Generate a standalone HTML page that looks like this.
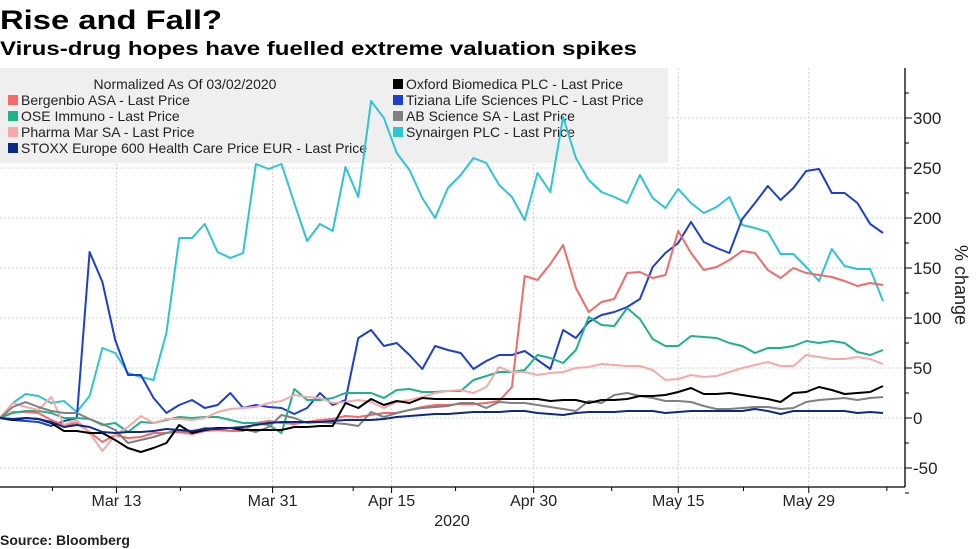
<!DOCTYPE html>
<html><head><meta charset="utf-8"><style>
body{margin:0;background:#fff;}
svg{display:block;font-family:"Liberation Sans",sans-serif;}
</style></head><body>
<svg id="c" width="977" height="549" viewBox="0 0 977 549">
<text x="0" y="29" font-size="27" font-weight="bold" textLength="222" lengthAdjust="spacingAndGlyphs">Rise and Fall?</text>
<text x="0" y="55" font-size="19" font-weight="bold" textLength="637" lengthAdjust="spacingAndGlyphs">Virus-drug hopes have fuelled extreme valuation spikes</text>
<g id="grid"></g>
<g>
<rect x="0" y="68" width="668" height="95" fill="#efefef"/>
<text x="185" y="89" font-size="14" text-anchor="middle" fill="#222">Normalized As Of 03/02/2020</text>
<g id="leg"></g>
</g>
<g id="series"></g>
<g id="axes"></g>
<text x="452" y="526" font-size="16" text-anchor="middle" fill="#222">2020</text>
<text transform="translate(955,285) rotate(90)" font-size="18" text-anchor="middle" fill="#222">% change</text>
<text x="0" y="545" font-size="14" font-weight="bold" fill="#222">Source: Bloomberg</text>
</svg>
<script>
const seriesNames=["Bergenbio ASA - Last Price","OSE Immuno - Last Price","Pharma Mar SA - Last Price","STOXX Europe 600 Health Care Price EUR - Last Price","Oxford Biomedica PLC - Last Price","Tiziana Life Sciences PLC - Last Price","AB Science SA - Last Price","Synairgen PLC - Last Price"];
const bergenbio=[0,6,6,5,-2,-7,-5,-14,-24,-17,-20,-19,-15,-15,-14,-16,-13,-12,-13,-13,-5,-3,-5,-6,-4,-2,-1,2,1,3,5,5,8,11,13,13,14,14,15,17,31,142,138,154,173,130,106,116,119,145,146,140,143,187,165,148,151,158,167,165,148,140,150,145,143,141,137,132,135,133];
const ose=[0,5,7,7,5,0,0,-1,-7,-5,-14,-4,-5,-2,1,0,1,1,-2,-5,-5,-7,-15,29,18,18,20,25,25,25,20,28,29,26,26,27,27,38,42,46,46,48,63,60,55,68,101,93,92,110,99,79,72,72,82,81,80,75,72,65,70,70,72,77,75,77,75,66,63,68];
const pharmaMar=[0,15,11,8,21,-7,-2,-15,-33,-17,-9,2,-5,-1,-1,-2,0,6,9,10,11,15,17,23,21,20,15,16,18,16,10,16,18,21,25,27,28,25,31,51,46,46,43,45,46,50,51,54,53,52,52,48,38,39,43,41,42,46,50,53,56,52,52,63,61,59,59,61,59,54];
const stoxx=[0,-1,0,-1,-4,-9,-7,-9,-14,-15,-14,-14,-13,-11,-12,-13,-11,-11,-10,-9,-7,-5,-4,-4,-4,-4,-3,-2,-2,-2,-1,1,2,3,4,4,5,6,6,6,7,7,5,4,3,5,6,6,6,7,7,7,5,6,7,7,7,7,7,9,7,4,7,7,7,7,7,5,6,5];
const oxford=[0,-2,0,-1,-5,-13,-13,-15,-15,-22,-30,-34,-30,-25,-7,-15,-12,-10,-10,-12,-12,-12,-12,-9,-9,-8,-8,15,10,19,13,17,15,20,19,19,19,19,19,19,19,19,19,17,18,18,15,18,18,19,22,22,23,26,30,24,24,25,23,21,19,16,25,26,31,28,24,25,26,32];
const tiziana=[0,-2,-3,-4,-8,-3,0,166,136,78,43,43,20,5,13,18,10,13,25,10,13,11,10,4,10,25,13,18,80,88,72,75,63,49,72,68,65,49,57,63,63,67,58,49,88,80,96,103,106,111,119,151,165,175,196,176,170,165,199,215,232,218,230,247,249,225,225,215,194,185];
const abScience=[0,11,16,11,7,5,5,-1,-6,-12,-25,-22,-19,-15,-12,-14,-10,-10,-10,-11,-14,-9,3,0,-5,-4,-5,-6,-8,6,1,5,8,10,11,12,15,15,10,16,15,15,13,11,9,7,17,15,23,25,22,20,17,17,16,12,9,9,10,11,11,9,10,16,18,19,20,18,20,21];
const synairgen=[0,15,24,22,15,17,6,22,70,65,45,41,38,85,180,180,194,166,160,165,254,249,254,215,177,194,187,251,221,317,300,265,248,220,200,230,243,260,255,233,221,198,245,226,301,260,238,226,221,215,243,220,210,229,215,205,211,221,193,190,186,164,164,151,137,169,152,149,149,117];
const xTickLabels=["Mar 13","Mar 31","Apr 15","Apr 30","May 15","May 29"];
const xTickIdx=[9.1,21.3,30.6,41.7,53,63.2];
const xMinorIdx=[4.1,14.1,27.6,35.6,47.8,58.1,69.3];
const yTicks=[-50,0,50,100,150,200,250,300];

const NS="http://www.w3.org/2000/svg";
const N=70, X0=0, X1=883;
function xs(i){return X0+i*(X1-X0)/(N-1);}
function ys(v){return 418-v;}
function mk(tag,attrs,parent){const e=document.createElementNS(NS,tag);for(const k in attrs)e.setAttribute(k,attrs[k]);parent.appendChild(e);return e;}
const grid=document.getElementById('grid'),axes=document.getElementById('axes'),ser=document.getElementById('series'),leg=document.getElementById('leg');
yTicks.forEach(t=>{
  const l=mk('line',{x1:0,x2:905,y1:ys(t),y2:ys(t),stroke:'#d0d0d0','stroke-dasharray':'2,2'},grid);
  
  
  const tk=mk('line',{x1:905,x2:912,y1:ys(t),y2:ys(t),stroke:'#000'},axes);
  
  
  const tx=mk('text',{x:913,y:ys(t)+6,'font-size':17,fill:'#222'},axes);
  tx.textContent=t;
  
  
});
for(let v=-75;v<=325;v+=25){if(v%50!==0){const m=mk('line',{x1:905,x2:909,y1:ys(v),y2:ys(v),stroke:'#000'},axes);
  
  }}
xTickIdx.forEach((t,i)=>{
  const g=mk('line',{x1:xs(t),x2:xs(t),y1:68,y2:487,stroke:'#d0d0d0','stroke-dasharray':'2,2'},grid);
  
  
  const tk=mk('line',{x1:xs(t),x2:xs(t),y1:487,y2:493,stroke:'#000'},axes);
  
  
  const tx=mk('text',{x:xs(t),y:506,'font-size':16,'text-anchor':'middle',fill:'#222'},axes);
  tx.textContent=xTickLabels[i];
  
  
});
xMinorIdx.forEach(t=>{const m=mk('line',{x1:xs(t),x2:xs(t),y1:487,y2:491,stroke:'#000'},axes);
  
  });
const ax1=mk('line',{x1:905,x2:905,y1:68,y2:487,stroke:'#000','stroke-width':1.3},axes);


const ax2=mk('line',{x1:0,x2:905,y1:487,y2:487,stroke:'#000','stroke-width':1.3},axes);



const data=[bergenbio,ose,pharmaMar,stoxx,oxford,tiziana,abScience,synairgen];
const colors=["#f26a6a","#1fb28a","#f7a9a9","#0b2a86","#000000","#1c3fd0","#808080","#2ec4d6"];
const slugs=["bergenbio","ose-immuno","pharma-mar","stoxx-health-care","oxford-biomedica","tiziana","ab-science","synairgen"];
const order=[7,5,0,1,2,6,4,3];
order.forEach(k=>{
  const d=data[k].map((v,i)=>(i?'L':'M')+xs(i).toFixed(1)+' '+ys(v)).join(' ');
  const p=mk('path',{d:d,fill:'none',stroke:colors[k],'stroke-width':2,'stroke-linejoin':'round'},ser);
  
  
});
const legPos=[[0,1],[0,2],[0,3],[0,4],[1,0],[1,1],[1,2],[1,3]];
seriesNames.forEach((n,k)=>{
  const [c,r]=legPos[k];const x=c?393:8, y=84+r*16;
  const s=mk('rect',{x:x,y:y-5,width:10,height:10,fill:colors[k]},leg);
  
  
  const t=mk('text',{x:x+13,y:y+5,'font-size':14,fill:'#222'},leg);
  t.textContent=n;
  
  
});
</script>
</body></html>
